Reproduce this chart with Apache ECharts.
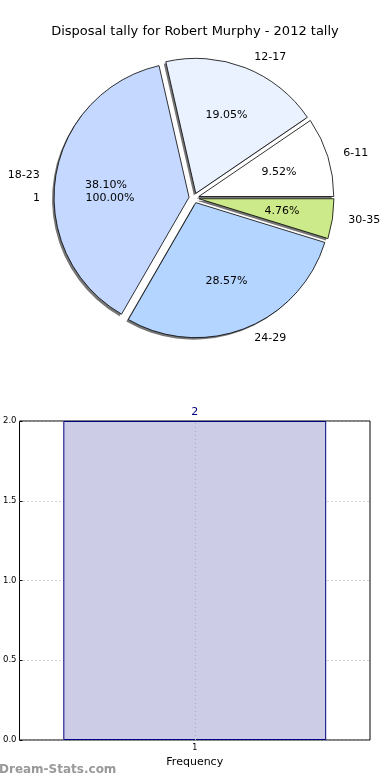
<!DOCTYPE html>
<html><head><meta charset="utf-8">
<script src="https://cdn.jsdelivr.net/npm/echarts@6/dist/echarts.min.js"></script>
<style>html,body{margin:0;padding:0;background:#fff}#c{width:390px;height:780px}</style>
</head><body><div id="c"></div>
<script>
const pieCategories = ['6-11', '12-17', '18-23', '24-29', '30-35'];
const pieValues = [2, 4, 8, 6, 1];
const pieColors = ['#ffffff', '#eaf1ff', '#c5d8ff', '#b4d5ff', '#cdea8a'];
const overlayCategories = ['1'];
const overlayValues = [1];
const barCategories = ['1'];
const barValues = [2];
const yTicks = [0, 0.5, 1.0, 1.5, 2.0];

const FONT = 'DejaVu Sans';
const total = pieValues.reduce((a, b) => a + b, 0);
const oTotal = overlayValues.reduce((a, b) => a + b, 0);
const CX = 194, CY = 198, R = 135;
const pct = (v, t) => (v / t * 100).toFixed(2) + '%';

const pieData = pieCategories.map((c, i) => ({name: c, value: pieValues[i], selected: true,
  itemStyle: {color: pieColors[i]}}));
const plain = (c, i) => ({name: c, value: pieValues[i], selected: true});

const base = {type: 'pie', center: [CX, CY], clockwise: false, startAngle: 0,
  selectedMode: 'multiple', selectedOffset: 5, animation: false,
  emphasis: {disabled: true}, select: {disabled: false}};

const option = {
  animation: false,
  textStyle: {fontFamily: FONT},
  title: {text: 'Disposal tally for Robert Murphy - 2012 tally', left: 'center', top: 20,
    textStyle: {fontFamily: FONT, fontSize: 13, fontWeight: 'normal', color: '#000'}},
  grid: {left: 19, right: 20, top: 421, bottom: 40, show: true, borderColor: '#000', borderWidth: 1,
    backgroundColor: 'transparent'},
  xAxis: {type: 'category', data: barCategories,
    axisLine: {show: false}, axisTick: {show: true, inside: true, alignWithLabel: true, length: 3, lineStyle: {color: '#000'}},
    axisLabel: {fontSize: 8, color: '#000', margin: 4, fontFamily: FONT},
    name: 'Frequency', nameLocation: 'middle', nameGap: 17,
    nameTextStyle: {fontSize: 11, color: '#000', fontFamily: FONT}},
  yAxis: {type: 'value', min: 0, max: 2, interval: 0.5,
    axisLine: {show: false}, axisTick: {show: true, inside: true, length: 3, lineStyle: {color: '#000'}},
    axisLabel: {fontSize: 8.5, color: '#000', margin: 3, fontFamily: FONT, formatter: v => v.toFixed(1)},
    splitLine: {show: true, lineStyle: {color: '#aaa', type: [1, 3], width: 1}}},
  graphic: [{type: 'text', left: -1, top: 764,
    style: {text: 'Dream-Stats.com', fill: '#999', font: 'bold 12px "DejaVu Sans"'}}],
  series: [
    Object.assign({}, base, {name: 'shadow', center: [CX - 2, CY + 2], radius: [0, R], silent: true, z: 1,
      data: pieCategories.map(plain), itemStyle: {color: 'rgba(60,60,60,0.7)', borderWidth: 0},
      label: {show: false}, labelLine: {show: false}}),
    Object.assign({}, base, {name: 'pie', radius: [0, R], z: 2, silent: true,
      data: pieData, itemStyle: {borderColor: '#000', borderWidth: 0.8},
      label: {show: true, position: 'outside', formatter: '{b}', fontSize: 11, color: '#000', fontFamily: FONT},
      labelLine: {show: false, length: 11, length2: 0}}),
    Object.assign({}, base, {name: 'pct', radius: [R * 0.2, R], z: 3, silent: true,
      data: pieCategories.map(plain), itemStyle: {color: 'rgba(0,0,0,0)', borderWidth: 0},
      label: {show: true, position: 'inside', fontSize: 11, color: '#000', fontFamily: FONT,
        formatter: p => pct(p.value, total)}, labelLine: {show: false}}),
    Object.assign({}, base, {name: 'overlayPct', radius: [R * 0.2, R], z: 3, silent: true, selectedOffset: 0,
      data: overlayCategories.map((c, i) => ({name: c, value: overlayValues[i]})),
      itemStyle: {color: 'rgba(0,0,0,0)', borderWidth: 0},
      label: {show: true, position: 'inside', fontSize: 11, color: '#000', fontFamily: FONT,
        formatter: p => pct(p.value, oTotal)}, labelLine: {show: false}}),
    Object.assign({}, base, {name: 'overlayName', radius: [0, R], z: 3, silent: true, selectedOffset: 0,
      data: overlayCategories.map((c, i) => ({name: c, value: overlayValues[i]})),
      itemStyle: {color: 'rgba(0,0,0,0)', borderWidth: 0},
      label: {show: true, position: 'outside', formatter: '{b}', fontSize: 11, color: '#000', fontFamily: FONT},
      labelLine: {show: false, length: 14, length2: 0}}),
    {type: 'bar', name: 'freq', data: barValues, barWidth: '75%', silent: true,
      itemStyle: {color: '#ccccE6', borderColor: '#000080', borderWidth: 1},
      label: {show: true, position: 'top', fontSize: 11, color: '#000080', distance: 3, fontFamily: FONT},
      markLine: {silent: true, symbol: 'none', label: {show: false},
        lineStyle: {color: '#aaa', type: [1, 3], width: 1},
        data: [{xAxis: barCategories[0]}]}}
  ]
};
const chart = echarts.init(document.getElementById('c'), null, {renderer: 'canvas'});
chart.setOption(option);
</script></body></html>
